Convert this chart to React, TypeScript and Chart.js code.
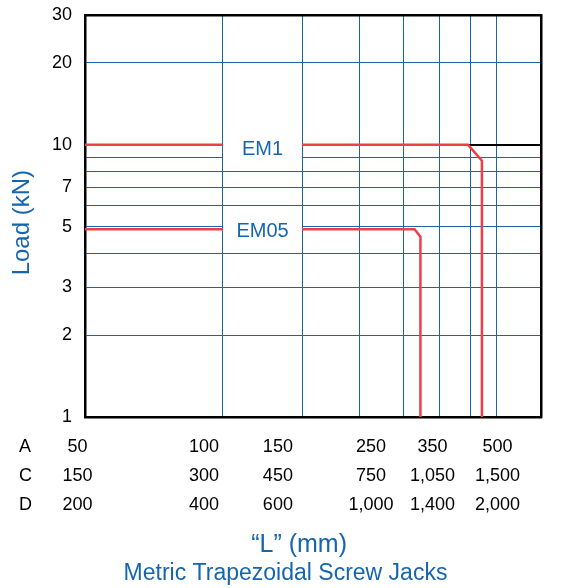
import { useEffect, useRef } from 'react';
import { Chart, registerables } from 'chart.js';

Chart.register(...registerables);

// ---- data ----
const rowA = [50, 100, 150, 250, 350, 500];
const rowC = ['150', '300', '450', '750', '1,050', '1,500'];
const rowD = ['200', '400', '600', '1,000', '1,400', '2,000'];
const rowNames = ['A', 'C', 'D'];
const xGridValues = [100, 150, 200, 250, 300, 350, 400];
const yGridValues = [1, 2, 3, 4, 5, 6, 7, 8, 9, 10, 20, 30];
const yLabelValues = [1, 2, 3, 5, 7, 10, 20, 30];
const em1X = [50, 346, 371, 371];
const em1Y = [10, 10, 8.74, 1];
const em05X = [50, 264, 272, 272];
const em05Y = [4.9, 4.9, 4.6, 1];
const seriesNames = ['EM1', 'EM05'];
const labelFromX = 100;
const labelToX = 150;

// ---- styles ----
const FONT = "'Liberation Sans', Arial, sans-serif";
const BLUE = '#1565b0';
const GRID = '#1a64a8';
const RED = '#ec4048';
const LABEL_PAD = 15.4;
const LABEL_LH = 29.2;

const annotate = {
  id: 'annotate',
  afterDatasetsDraw(chart: any) {
    const { ctx } = chart;
    const xs = chart.scales.x;
    const ys = chart.scales.y;
    const x1 = Math.floor(xs.getPixelForValue(labelFromX)) + 1;
    const x2 = Math.floor(xs.getPixelForValue(labelToX));
    const levels = [em1Y[0], em05Y[0]];
    const textDy = [5, 2];
    seriesNames.forEach((name, i) => {
      const py = ys.getPixelForValue(levels[i]);
      ctx.save();
      ctx.fillStyle = '#ffffff';
      ctx.fillRect(x1, py - 12, x2 - x1, 29);
      ctx.fillStyle = BLUE;
      ctx.font = `20px ${FONT}`;
      ctx.textAlign = 'center';
      ctx.textBaseline = 'middle';
      ctx.fillText(name, (x1 + x2) / 2, py + textDy[i]);
      ctx.restore();
    });
  },
  afterDraw(chart: any) {
    const { ctx } = chart;
    const s = chart.scales.x2;
    ctx.save();
    ctx.fillStyle = '#000';
    ctx.font = `18px ${FONT}`;
    ctx.textAlign = 'left';
    ctx.textBaseline = 'middle';
    rowNames.forEach((n, i) => {
      ctx.fillText(n, 19, s.top + LABEL_PAD + LABEL_LH / 2 + i * LABEL_LH);
    });
    ctx.restore();
  },
};

export default function App() {
  const ref = useRef<HTMLCanvasElement | null>(null);

  useEffect(() => {
    if (!ref.current) return;
    const chart = new Chart(ref.current, {
      type: 'line',
      data: {
        datasets: [
          {
            label: seriesNames[0],
            data: em1X.map((x, i) => ({ x, y: em1Y[i] })),
            borderColor: RED,
            borderWidth: 2.5,
            pointRadius: 0,
            fill: false,
            tension: 0,
          },
          {
            label: seriesNames[1],
            data: em05X.map((x, i) => ({ x, y: em05Y[i] })),
            borderColor: RED,
            borderWidth: 2.5,
            pointRadius: 0,
            fill: false,
            tension: 0,
          },
        ],
      },
      options: {
        animation: false,
        responsive: true,
        maintainAspectRatio: false,
        layout: { padding: 0 },
        plugins: {
          legend: { display: false },
          tooltip: { enabled: false },
          title: {
            display: true,
            position: 'bottom',
            text: 'Metric Trapezoidal Screw Jacks',
            color: BLUE,
            font: { family: FONT, size: 23, weight: 'normal' },
            padding: { top: 0, bottom: 0.2 },
          },
        },
        scales: {
          x: {
            type: 'logarithmic',
            position: 'bottom',
            min: 50,
            max: 500,
            weight: 0,
            afterBuildTicks: (s: any) => {
              s.ticks = xGridValues.map((v) => ({ value: v }));
            },
            afterFit: (s: any) => {
              s.height = 0;
              s.paddingLeft = 0;
              s.paddingRight = 0;
            },
            grid: { color: GRID, lineWidth: 1, drawTicks: false },
            border: { display: true, color: '#000', width: 2.5 },
            ticks: { display: false },
          },
          x2: {
            type: 'logarithmic',
            position: 'bottom',
            min: 52.1,
            max: 634.7,
            weight: 1,
            afterBuildTicks: (s: any) => {
              s.ticks = rowA.map((v) => ({ value: v }));
            },
            afterFit: (s: any) => {
              s.height = 143.2;
              s.paddingLeft = 0;
              s.paddingRight = 0;
            },
            grid: { display: false, drawTicks: false },
            border: { display: false },
            ticks: {
              autoSkip: false,
              maxRotation: 0,
              minRotation: 0,
              padding: LABEL_PAD,
              color: '#000',
              font: { family: FONT, size: 18, lineHeight: LABEL_LH / 18 },
              callback: (_v: any, i: number) => [String(rowA[i]), rowC[i], rowD[i]],
            },
            title: {
              display: true,
              text: '\u201CL\u201D (mm)    ',
              color: BLUE,
              font: { family: FONT, size: 25 },
              padding: { top: 0, bottom: 0.3 },
            },
          },
          xTop: {
            type: 'linear',
            position: 'top',
            grid: { display: false, drawTicks: false },
            border: { display: true, color: '#000', width: 2.5 },
            ticks: { display: false },
            afterFit: (s: any) => {
              s.height = 15;
            },
          },
          y: {
            type: 'logarithmic',
            position: 'left',
            min: 1,
            max: 30,
            afterBuildTicks: (s: any) => {
              s.ticks = yGridValues.map((v) => ({ value: v }));
            },
            afterFit: (s: any) => {
              s.width = 85;
              s.paddingTop = 0;
              s.paddingBottom = 0;
            },
            grid: {
              color: (c: any) => (c.tick && c.tick.value === 10 ? '#000' : GRID),
              lineWidth: (c: any) => (c.tick && c.tick.value === 10 ? 2 : 1),
              drawTicks: false,
            },
            border: { display: true, color: '#000', width: 2.5 },
            ticks: {
              autoSkip: false,
              padding: 13,
              color: '#000',
              font: { family: FONT, size: 18 },
              callback: (v: any) => (yLabelValues.includes(Number(v)) ? String(v) : ''),
            },
            title: {
              display: true,
              text: 'Load (kN)  ',
              color: BLUE,
              font: { family: FONT, size: 24 },
              padding: { top: 8, bottom: 0 },
            },
          },
          yRight: {
            type: 'linear',
            position: 'right',
            grid: { display: false, drawTicks: false },
            border: { display: true, color: '#000', width: 2.5 },
            ticks: { display: false },
            afterFit: (s: any) => {
              s.width = 30;
            },
          },
        },
      } as any,
      plugins: [annotate],
    });
    return () => chart.destroy();
  }, []);

  return (
    <div style={{ position: 'fixed', left: 0, top: 0, width: 571, height: 588, background: '#fff' }}>
      <canvas ref={ref} style={{ display: 'block' }} />
    </div>
  );
}
